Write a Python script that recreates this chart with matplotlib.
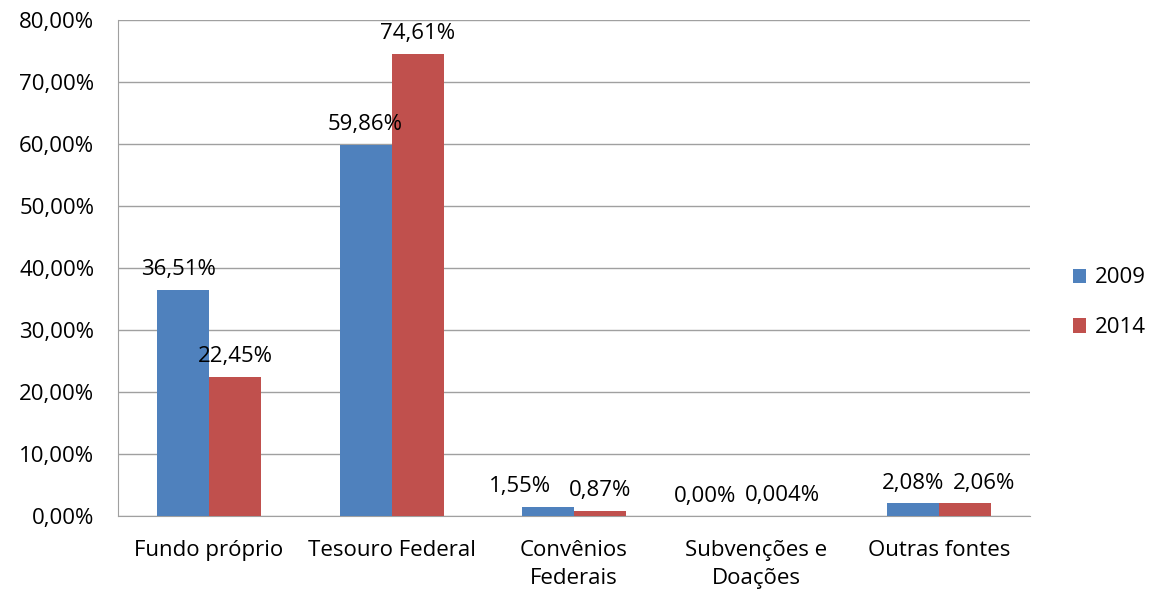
import numpy as np
import matplotlib.pyplot as plt

categorias = ['Fundo próprio', 'Tesouro Federal', 'Convênios\nFederais',
              'Subvenções e\nDoações', 'Outras fontes']
anos = ['2009', '2014']
v2009 = [36.51, 59.86, 1.55, 0.00, 2.08]
v2014 = [22.45, 74.61, 0.87, 0.004, 2.06]
rot2009 = ['36,51%', '59,86%', '1,55%', '0,00%', '2,08%']
rot2014 = ['22,45%', '74,61%', '0,87%', '0,004%', '2,06%']
yticks = [0, 10, 20, 30, 40, 50, 60, 70, 80]

plt.rcParams['font.family'] = ['Open Sans', 'DejaVu Sans']

fig = plt.figure(figsize=(11.56, 5.92), dpi=100)
ax = fig.add_axes([0.102, 0.128, 0.789, 0.838])

x = np.arange(len(categorias))
w = 0.285
b1 = ax.bar(x - w/2, v2009, w, color='#4F81BD', label=anos[0], zorder=3)
b2 = ax.bar(x + w/2, v2014, w, color='#C0504D', label=anos[1], zorder=3)

# deslocamentos horizontais (pontos) como no Excel
dx1 = [-3, 0, -20, -18, 0]
dx2 = [0, 0, 0, 0, 14]
for i in range(len(x)):
    ax.annotate(rot2009[i], (x[i] - w/2, v2009[i]), xytext=(dx1[i], 7),
                textcoords='offset points', ha='center', va='bottom', fontsize=16)
    ax.annotate(rot2014[i], (x[i] + w/2, v2014[i]), xytext=(dx2[i], 7),
                textcoords='offset points', ha='center', va='bottom', fontsize=16)

ax.set_xlim(-0.5, len(categorias) - 0.5)
ax.set_ylim(0, 80)
ax.set_yticks(yticks)
ax.set_yticklabels(['{:.2f}%'.format(t).replace('.', ',') for t in yticks], fontsize=16)
ax.set_xticks(x)
ax.set_xticklabels(categorias, fontsize=16, linespacing=1.45)
ax.tick_params(axis='x', length=0, pad=17)
ax.tick_params(axis='y', length=0, pad=17)
ax.grid(axis='y', color='#a0a0a0', lw=1.0, zorder=0)
for s in ['top', 'right']:
    ax.spines[s].set_visible(False)
for s in ['left', 'bottom']:
    ax.spines[s].set_color('#a0a0a0')

ax.legend(loc='center left', bbox_to_anchor=(1.025, 0.43), frameon=False,
          fontsize=16, handlelength=0.6, handleheight=0.6, labelspacing=1.3,
          handletextpad=0.4)

plt.savefig('out.png', dpi=100)
